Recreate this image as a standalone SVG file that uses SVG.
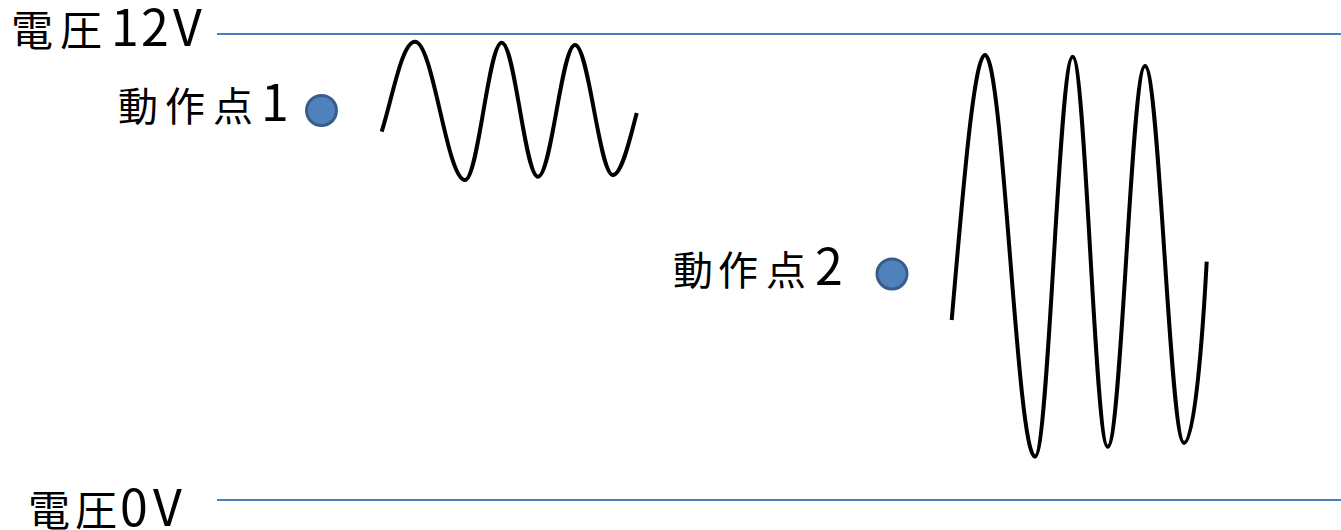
<svg xmlns="http://www.w3.org/2000/svg" width="1341" height="530" viewBox="0 0 1341 530">
<style>
.lbl{font-family:"Noto Sans CJK JP","Noto Sans",sans-serif;fill:#000}
.big{font-size:42px}
.mid{font-size:40px}
.dg{font-size:50px}
.rail{stroke:#4a7ebb;stroke-width:2;fill:none}
.wave{stroke:#000;stroke-width:4;fill:none;stroke-linecap:butt}
.dot{fill:#4f81bd;stroke:#385d8a;stroke-width:3}
</style>
<rect width="1341" height="530" fill="#fff"/>
<g id="connectors">
<line class="rail" x1="217" y1="34" x2="1341" y2="34"/>
<line class="rail" x1="217" y1="500" x2="1341" y2="500"/>
</g>
<g id="label-12v"><text class="lbl big" x="11 60" y="46">電圧<tspan class="dg" x="111 141 173">12V</tspan></text></g>
<g id="label-0v"><text class="lbl big" x="28 75" y="526">電圧<tspan class="dg" x="120 153">0V</tspan></text></g>
<g id="op1">
<text class="lbl mid" x="118 165 213" y="121">動作点<tspan class="dg" x="261">1</tspan></text>
<circle class="dot" cx="321.5" cy="110.5" r="15"/>
</g>
<g id="op2">
<text class="lbl mid" x="673 718 766" y="285">動作点<tspan class="dg" x="815">2</tspan></text>
<circle class="dot" cx="892" cy="274" r="15"/>
</g>
<g id="wave1">
<path class="wave" d="M381.7,131.7 C393,95 402,41.7 415,41.7 C433.2,41.7 446.8,180 465,180 C478.3,180 488.4,42.7 501.7,42.7 C514.9,42.7 524.8,176.7 538,176.7 C551.4,176.7 561.6,45 575,45 C588.8,45 599.2,175 613,175 C622,175 631,135 636.7,113"/>
</g>
<g id="wave2">
<path class="wave" d="M951.7,320 C963,190 974,55 985,55 C1003.2,55 1016.8,456.7 1035,456.7 C1048.7,456.7 1059,56.7 1072.7,56.7 C1085.4,56.7 1095,446.7 1107.7,446.7 C1121.3,446.7 1131.4,66 1145,66 C1159.2,66 1169.8,443 1184,443 C1195,443 1203,330 1206.7,261.7"/>
</g>
</svg>
